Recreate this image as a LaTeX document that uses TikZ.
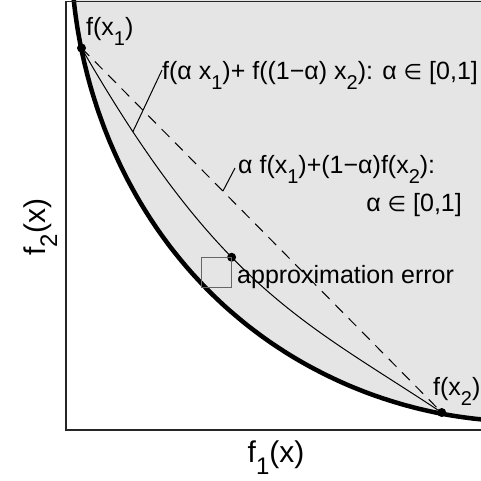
\documentclass[tikz,border=0pt]{standalone}
\usepackage{fontspec}
\setmainfont{Liberation Sans}
\newfontfamily\symf{DejaVu Sans}
\newcommand{\subx}[1]{\raisebox{-0.4em}{\scalebox{0.8}{#1}}}
\newcommand{\elemof}{{\symf\scalebox{0.85}{∈}}}
\definecolor{gfill}{HTML}{E5E5E5}
\begin{document}
\begin{tikzpicture}[x=1pt,y=-1pt,
  lab/.style={inner sep=0pt, font=\fontsize{25}{30}\selectfont},
  axlab/.style={inner sep=0pt, font=\fontsize{30}{36}\selectfont},
  front/.style={line width=4.5pt, line join=round},
  thinline/.style={line width=1pt},
  chord/.style={line width=1pt, dash pattern=on 11pt off 8pt},
  dot/.style={circle, fill=black, inner sep=0pt, minimum size=9pt},
  errbox/.style={draw=black!60, line width=1pt, inner sep=0pt, minimum width=29.5pt, minimum height=30pt}]
\useasboundingbox (0,0) rectangle (481,480);
\clip (0,0) rectangle (481,480);
% gray region and pareto front (superellipse)
\path[fill=gfill] plot[domain=80:4, samples=120, variable=\t] ({71.5+440*pow(cos(\t),3.5)}, {421-460*pow(sin(\t),3.5)}) -- (520,421) -- (520,-20) -- (60,-20) -- cycle;
\draw[front] plot[domain=80:4, samples=120, variable=\t, smooth] ({71.5+440*pow(cos(\t),3.5)}, {421-460*pow(sin(\t),3.5)});
% frame
\draw[line width=1.5pt, black!85] (66,1.7) rectangle (490,430);
% points
\node[dot] (fx1) at (81.5,48) {};
\node[dot] (fx2) at (441.7,412.5) {};
% chord
\draw[chord] (fx1.center) -- (fx2.center);
% thin curve
\draw[thinline] (fx1.center) .. controls (219.7,288.1) and (303.7,321.2) .. (fx2.center)
  coordinate[pos=0.13] (c1) coordinate[pos=0.41] (aep);
% approximation error
\node[dot] (ae) at (aep) {};
\node[errbox, anchor=north east] (box) at (ae.center) {};
\node[lab, anchor=base west] (aelab) at (237,283) {approximation error};
% labels
\node[lab, anchor=base west] (lfx1) at (86,35) {f(x\subx{1})};
\node[lab, anchor=base west] (lfx2) at (433,395) {f(x\subx{2})};
\node[lab, anchor=base west] (l1) at (162,79) {f(α x\subx{1})+ f((1−α) x\subx{2}): α \elemof{} [0,1]};
\node[lab, anchor=base west] (l2) at (238,173) {α f(x\subx{1})+(1−α)f(x\subx{2}):};
\node[lab, anchor=base east] (l2b) at (462,211) {α \elemof{} [0,1]};
% callouts
\coordinate (c2) at (223,191);
\draw[thinline] (c1) -- ([yshift=9pt]l1.base west);
\draw[thinline] (c2) -- ([shift={(-3pt,5pt)}]l2.base west);
% axis labels
\node[axlab, anchor=base] (xl) at (276,462) {f\subx{1}(x)};
\node[axlab, anchor=base, rotate=90] (yl) at (45,227) {f\subx{2}(x)};
\end{tikzpicture}
\end{document}
